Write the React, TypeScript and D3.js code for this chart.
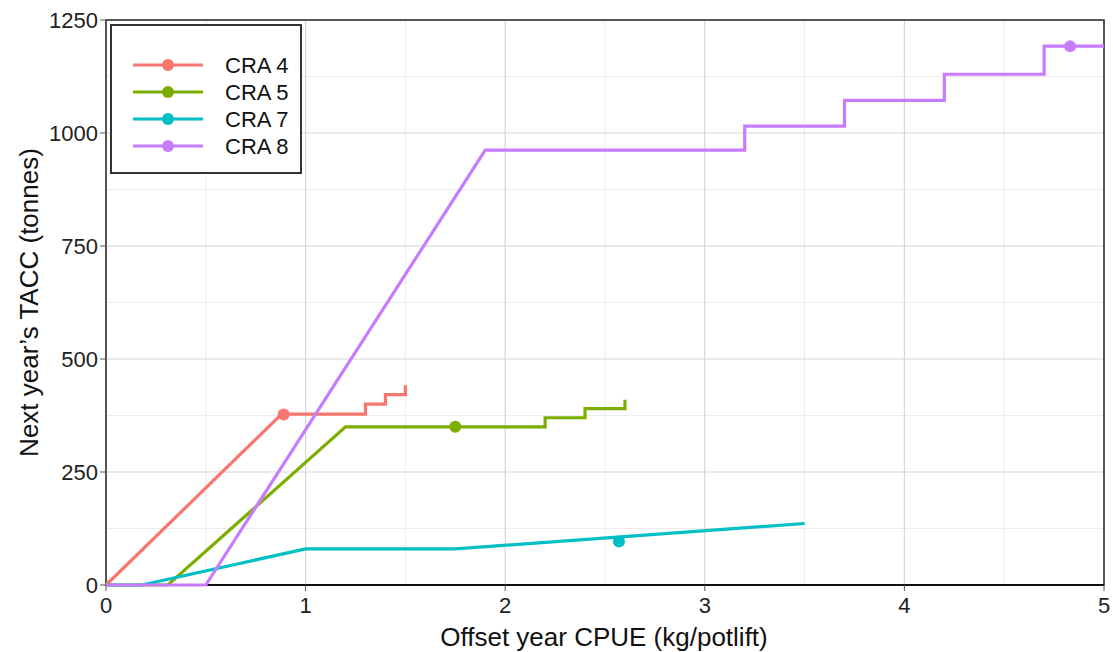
import React, { useEffect, useRef } from 'react'
import { select, scaleLinear, line, range } from 'd3'

// series data
const seriesNames = ['CRA 4', 'CRA 5', 'CRA 7', 'CRA 8']
const seriesColors = ['#F8766D', '#7CAE00', '#00BFC4', '#C77CFF']

const cra4X = [0, 0.88, 1.3, 1.3, 1.4, 1.4, 1.5, 1.5]
const cra4Y = [0, 378, 378, 400, 400, 421, 421, 442]
const cra5X = [0, 0.31, 1.2, 2.2, 2.2, 2.4, 2.4, 2.6, 2.6]
const cra5Y = [0, 0, 350, 350, 370, 370, 390, 390, 410]
const cra7X = [0, 0.18, 1.0, 1.75, 3.5]
const cra7Y = [0, 0, 80, 80, 136]
const cra8X = [0, 0.5, 1.9, 3.2, 3.2, 3.7, 3.7, 4.2, 4.2, 4.7, 4.7, 5.0]
const cra8Y = [0, 0, 962, 962, 1015, 1015, 1072, 1072, 1130, 1130, 1192, 1192]

// one marker per series
const pointX = [0.89, 1.75, 2.57, 4.83]
const pointY = [377, 350, 96, 1192]

const xTicks = [0, 1, 2, 3, 4, 5]
const yTicks = [0, 250, 500, 750, 1000, 1250]

const W = 1113
const H = 652
const FONT = 'Liberation Sans, Arial, Helvetica, sans-serif'

export default function App() {
  const ref = useRef<SVGSVGElement | null>(null)

  useEffect(() => {
    const svg = select(ref.current)
    svg.selectAll('*').remove()

    const left = 106, right = 1104, top = 20, bottom = 585
    const x = scaleLinear().domain([0, 5]).range([left, right])
    const y = scaleLinear().domain([0, 1250]).range([bottom, top])

    svg.append('rect').attr('width', W).attr('height', H).attr('fill', 'white')

    // minor grid
    const g = svg.append('g')
    g.selectAll('.minx').data(range(0.5, 5, 1)).join('line')
      .attr('x1', d => x(d)).attr('x2', d => x(d)).attr('y1', top).attr('y2', bottom)
      .attr('stroke', '#ececec').attr('stroke-width', 1)
    g.selectAll('.miny').data(range(125, 1250, 250)).join('line')
      .attr('y1', d => y(d)).attr('y2', d => y(d)).attr('x1', left).attr('x2', right)
      .attr('stroke', '#ececec').attr('stroke-width', 1)

    // major grid
    g.selectAll('.majx').data(xTicks).join('line')
      .attr('x1', d => x(d)).attr('x2', d => x(d)).attr('y1', top).attr('y2', bottom)
      .attr('stroke', '#d6d6d6').attr('stroke-width', 1.2)
    g.selectAll('.majy').data(yTicks).join('line')
      .attr('y1', d => y(d)).attr('y2', d => y(d)).attr('x1', left).attr('x2', right)
      .attr('stroke', '#d6d6d6').attr('stroke-width', 1.2)

    // frame
    svg.append('rect')
      .attr('x', left).attr('y', top).attr('width', right - left).attr('height', bottom - top)
      .attr('fill', 'none').attr('stroke', '#333').attr('stroke-width', 1.6)
    svg.append('line')
      .attr('x1', left).attr('x2', right).attr('y1', bottom).attr('y2', bottom)
      .attr('stroke', '#111').attr('stroke-width', 2)

    // ticks
    svg.selectAll('.xt').data(xTicks).join('line')
      .attr('x1', d => x(d)).attr('x2', d => x(d)).attr('y1', bottom).attr('y2', bottom + 6)
      .attr('stroke', '#555').attr('stroke-width', 1)
    svg.selectAll('.yt').data(yTicks).join('line')
      .attr('y1', d => y(d)).attr('y2', d => y(d)).attr('x1', left - 6).attr('x2', left)
      .attr('stroke', '#555').attr('stroke-width', 1)

    svg.selectAll('.xl').data(xTicks).join('text')
      .attr('x', d => x(d)).attr('y', bottom + 28)
      .attr('text-anchor', 'middle').attr('font-size', 22).attr('font-family', FONT).attr('fill', '#222')
      .text(d => d)
    svg.selectAll('.yl').data(yTicks).join('text')
      .attr('x', left - 8).attr('y', d => y(d) + 8)
      .attr('text-anchor', 'end').attr('font-size', 22).attr('font-family', FONT).attr('fill', '#222')
      .text(d => d)

    // axis titles
    svg.append('text')
      .attr('x', 604).attr('y', 646)
      .attr('text-anchor', 'middle').attr('font-size', 26).attr('font-family', FONT).attr('fill', '#111')
      .text('Offset year CPUE (kg/potlift)')
    svg.append('text')
      .attr('transform', `translate(38, ${(top + bottom) / 2}) rotate(-90)`)
      .attr('text-anchor', 'middle').attr('font-size', 26).attr('font-family', FONT).attr('fill', '#111')
      .text('Next year\u2019s TACC (tonnes)')

    // lines
    const xs = [cra4X, cra5X, cra7X, cra8X]
    const ys = [cra4Y, cra5Y, cra7Y, cra8Y]
    const lineFn = line<[number, number]>().x(d => x(d[0])).y(d => y(d[1]))
    const lines = svg.append('g')
    xs.forEach((xv, i) => {
      const pts = xv.map((v, j) => [v, ys[i][j]] as [number, number])
      lines.append('path')
        .attr('d', lineFn(pts))
        .attr('fill', 'none')
        .attr('stroke', seriesColors[i])
        .attr('stroke-width', 3.2)
        .attr('stroke-linejoin', 'miter')
      lines.append('circle')
        .attr('cx', x(pointX[i])).attr('cy', y(pointY[i])).attr('r', 6)
        .attr('fill', seriesColors[i])
    })

    // legend
    const lg = svg.append('g')
    lg.append('rect')
      .attr('x', 111).attr('y', 25).attr('width', 190).attr('height', 148)
      .attr('fill', 'white').attr('stroke', '#333').attr('stroke-width', 2)
    seriesNames.forEach((name, i) => {
      const ly = 65 + i * 27
      lg.append('line')
        .attr('x1', 133).attr('x2', 203).attr('y1', ly).attr('y2', ly)
        .attr('stroke', seriesColors[i]).attr('stroke-width', 3.2)
      lg.append('circle').attr('cx', 168).attr('cy', ly).attr('r', 6).attr('fill', seriesColors[i])
      lg.append('text')
        .attr('x', 225).attr('y', ly + 8)
        .attr('font-size', 22).attr('font-family', FONT).attr('fill', '#111')
        .text(name)
    })
  }, [])

  return (
    <svg ref={ref} width={W} height={H} style={{ position: 'absolute', left: 0, top: 0 }} />
  )
}
